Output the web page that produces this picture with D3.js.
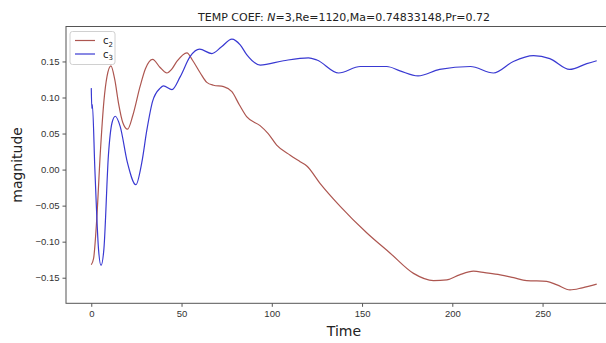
<!DOCTYPE html>
<html>
<head>
<meta charset="utf-8">
<script src="https://cdn.jsdelivr.net/npm/d3@7"></script>
<style>
  body { margin: 0; background: #fff; }
  svg { font-family: "DejaVu Sans", sans-serif; }
  .axis path, .axis line { stroke: #555; }
  .axis text { fill: #333; font-size: 9.5px; }
</style>
</head>
<body>
<svg width="606" height="343"></svg>
<script>
// time samples and values
var c2Time = [0, 1.3, 3, 5, 7, 8.7, 10.9, 13, 15.1, 17.5, 20.1, 23, 27, 30, 34, 38, 41.9, 44.5, 47.4, 53, 56,
  60.4, 64, 67.7, 73.3, 77.9, 82, 86.2, 93.5, 98, 102.7, 110.2, 115.7, 119.4, 126.7, 137.9, 152.7, 165.6,
  178.5, 189.6, 197, 204, 211.7, 218, 226.5, 234, 241.2, 252.3, 258, 265.2, 272, 280];
var c2Vals = [-0.132, -0.123, -0.07, 0.023, 0.095, 0.129, 0.144, 0.125, 0.092, 0.065, 0.056, 0.075, 0.115, 0.14,
  0.153, 0.142, 0.134, 0.139, 0.150, 0.162, 0.152, 0.134, 0.121, 0.117, 0.115, 0.108, 0.09, 0.073, 0.061, 0.05,
  0.034, 0.020, 0.011, 0.005, -0.019, -0.051, -0.088, -0.116, -0.144, -0.154, -0.153, -0.146, -0.141, -0.143,
  -0.146, -0.150, -0.154, -0.155, -0.160, -0.167, -0.164, -0.159];

var c3Time = [0, 0.3, 0.6, 2, 4, 5.4, 7, 9.5, 11.5, 13.3, 16, 20, 24.7, 28, 30.8, 34, 38.2, 40, 44.7, 49.3, 54.8,
  60, 66.8, 72, 77.9, 82.5, 86.2, 93.6, 106.5, 120.3, 125, 137, 149, 163.7, 171, 181, 193, 210, 222.8, 233.8,
  245, 254, 265, 274.5, 280];
var c3Vals = [0.113, 0.085, 0.09, 0.0, -0.11, -0.133, -0.11, 0.02, 0.065, 0.074, 0.06, 0.01, -0.021, 0.01, 0.055,
  0.095, 0.113, 0.116, 0.111, 0.129, 0.157, 0.167, 0.161, 0.17, 0.181, 0.173, 0.159, 0.145, 0.151, 0.155, 0.152,
  0.134, 0.143, 0.143, 0.137, 0.130, 0.139, 0.143, 0.134, 0.150, 0.158, 0.154, 0.139, 0.147, 0.151];

var yTicks = [-0.15, -0.10, -0.05, 0.00, 0.05, 0.10, 0.15];
var xTicks = [0, 50, 100, 150, 200, 250];

var svg = d3.select("svg");
var plotL = 66, plotR = 622, plotT = 26.5, plotB = 303.3;

var x = d3.scaleLinear().domain([-14, 294]).range([plotL, plotR]);
var y = d3.scaleLinear().domain([-0.1855, 0.1985]).range([plotB, plotT]);

svg.append("clipPath").attr("id", "clip")
  .append("rect").attr("x", plotL).attr("y", plotT).attr("width", plotR - plotL).attr("height", plotB - plotT);

var line = d3.line()
  .x(function(d) { return x(d[0]); })
  .y(function(d) { return y(d[1]); })
  .curve(d3.curveMonotoneX);

var series = [
  { name: "2", color: "#ad5650", pts: d3.zip(c2Time, c2Vals) },
  { name: "3", color: "#3939d2", pts: d3.zip(c3Time, c3Vals) }
];

svg.append("g").attr("clip-path", "url(#clip)")
  .selectAll("path")
  .data(series)
  .enter().append("path")
    .attr("d", function(d) { return line(d.pts); })
    .attr("fill", "none")
    .attr("stroke", function(d) { return d.color; })
    .attr("stroke-width", 1.2);

// axes
svg.append("g").attr("class", "axis")
  .attr("transform", "translate(0," + plotB + ")")
  .call(d3.axisBottom(x).tickValues(xTicks).tickSize(3.5).tickPadding(3).tickFormat(d3.format("d")));

svg.append("g").attr("class", "axis")
  .attr("transform", "translate(" + plotL + ",0)")
  .call(d3.axisLeft(y).tickValues(yTicks).tickSize(3.5).tickPadding(3).tickFormat(d3.format(".2f")));

svg.selectAll(".axis .domain").remove();

// frame
svg.append("rect")
  .attr("x", plotL).attr("y", plotT).attr("width", plotR - plotL).attr("height", plotB - plotT)
  .attr("fill", "none").attr("stroke", "#555").attr("stroke-width", 1);

// title
var title = svg.append("text")
  .attr("x", (plotL + plotR) / 2).attr("y", 21)
  .attr("text-anchor", "middle").attr("font-size", "11px").attr("fill", "#222");
title.append("tspan").text("TEMP COEF: ");
title.append("tspan").attr("font-style", "italic").text("N");
title.append("tspan").text("=3,Re=1120,Ma=0.74833148,Pr=0.72");

// axis labels
svg.append("text")
  .attr("x", (plotL + plotR) / 2).attr("y", 336)
  .attr("text-anchor", "middle").attr("font-size", "14px").attr("fill", "#222")
  .text("Time");

svg.append("text")
  .attr("transform", "translate(22," + ((plotT + plotB) / 2) + ") rotate(-90)")
  .attr("text-anchor", "middle").attr("font-size", "14px").attr("fill", "#222")
  .text("magnitude");

// legend
var lg = svg.append("g").attr("transform", "translate(70,31.5)");
lg.append("rect")
  .attr("width", 45).attr("height", 33).attr("rx", 2.5)
  .attr("fill", "#fff").attr("fill-opacity", 0.8)
  .attr("stroke", "#d0d0d0").attr("stroke-width", 1);

var item = lg.selectAll(".item")
  .data(series)
  .enter().append("g")
    .attr("transform", function(d, i) { return "translate(0," + (9 + i * 13.5) + ")"; });

item.append("line")
  .attr("x1", 5).attr("x2", 25)
  .attr("stroke", function(d) { return d.color; })
  .attr("stroke-width", 1.2);

var lt = item.append("text")
  .attr("x", 33).attr("y", 3.5)
  .attr("font-size", "10px").attr("fill", "#222");
lt.append("tspan").text("c");
lt.append("tspan").attr("font-size", "7px").attr("dy", 2.5).text(function(d) { return d.name; });
</script>
</body>
</html>
